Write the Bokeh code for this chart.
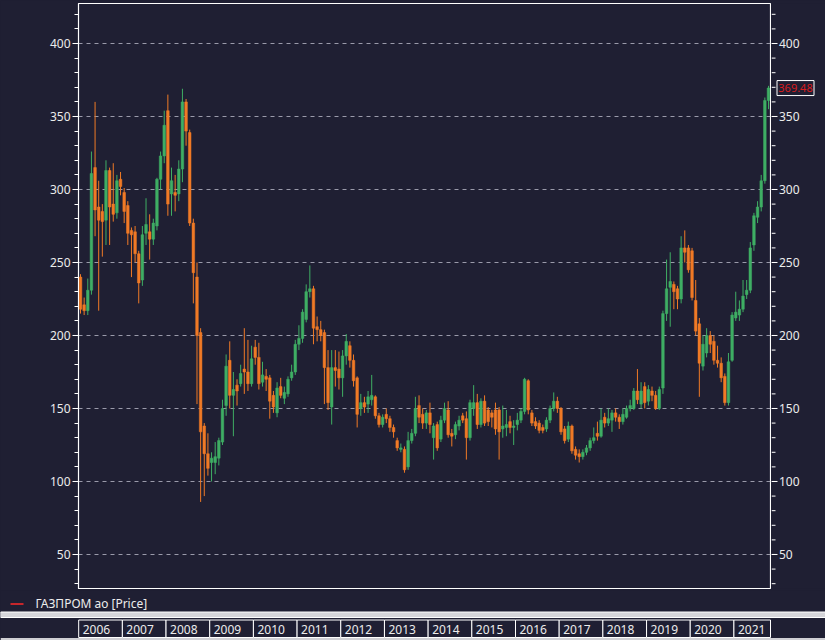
import numpy as np
from bokeh.plotting import figure
from bokeh.models import (Range1d, FixedTicker, ColumnDataSource, GlobalInlineStyleSheet)
from bokeh.layouts import column, row
from bokeh.embed import file_html
from bokeh.resources import INLINE
from bokeh.core.properties import value

# ---- data (monthly candles, Jan 2006 .. Oct 2021) ----
start_year = 2006
open_ = [240, 221, 217, 231, 315, 288, 285, 279, 313, 290, 284, 307,
         298, 289, 272, 271, 256, 238, 270, 271, 266, 275, 307, 323,
         354, 297, 298, 297, 314, 360, 339, 277, 240, 202, 138, 119,
         113, 113, 116, 127, 152, 183, 159, 166, 167, 177, 175, 167,
         192, 185, 168, 172, 171, 159, 147, 165, 157, 160, 171, 175,
         194, 198, 211, 230, 232, 206, 204, 202, 178, 151, 178, 177,
         171, 186, 193, 183, 171, 150, 154, 153, 156, 158, 145, 139,
         146, 143, 137, 128, 122, 122, 110, 128, 133, 152, 146, 140,
         147, 130, 139, 129, 142, 149, 133, 132, 138, 145, 143, 130,
         150, 154, 139, 155, 149, 147, 149, 149, 136, 137, 141, 137,
         139, 142, 148, 169, 147, 141, 140, 137, 136, 142, 150, 155,
         150, 136, 129, 138, 122, 119, 117, 120, 123, 128, 133, 131,
         144, 140, 142, 147, 144, 141, 144, 150, 150, 162, 153, 165,
         155, 162, 159, 150, 164, 215, 233, 235, 232, 225, 260, 260,
         258, 224, 208, 179, 188, 200, 196, 183, 181, 172, 154, 183,
         212, 214, 218, 228, 231, 262, 281, 288, 306, 361]
high = [242, 226, 239, 326, 360, 306, 290, 320, 315, 318, 310, 312,
        301, 292, 274, 275, 258, 275, 294, 283, 280, 308, 326, 354,
        365, 315, 310, 320, 369, 362, 341, 280, 250, 205, 140, 133,
        120, 127, 130, 156, 187, 196, 175, 170, 180, 205, 197, 193,
        197, 195, 182, 177, 173, 162, 168, 171, 165, 172, 180, 197,
        207, 218, 235, 248, 234, 213, 210, 204, 190, 190, 190, 189,
        190, 201, 196, 187, 172, 160, 158, 162, 173, 159, 147, 146,
        150, 145, 139, 130, 126, 124, 134, 136, 158, 159, 150, 149,
        154, 140, 141, 145, 154, 155, 136, 141, 145, 147, 148, 156,
        166, 160, 157, 159, 151, 149, 154, 151, 152, 149, 145, 142,
        147, 150, 171, 170, 149, 144, 142, 139, 144, 152, 161, 158,
        151, 138, 141, 139, 124, 122, 122, 125, 130, 137, 141, 150,
        147, 150, 149, 150, 146, 150, 152, 156, 164, 177, 168, 168,
        166, 165, 162, 165, 217, 252, 257, 237, 234, 268, 272, 262,
        260, 238, 212, 200, 205, 203, 200, 193, 185, 174, 188, 216,
        230, 224, 238, 238, 264, 284, 292, 310, 363, 371]
low = [215, 214, 214, 228, 268, 217, 254, 262, 262, 278, 280, 296,
       277, 262, 240, 250, 222, 234, 262, 252, 262, 272, 300, 318,
       282, 282, 285, 292, 305, 330, 275, 222, 153, 86, 90, 104,
       100, 105, 111, 125, 145, 150, 131, 152, 165, 160, 162, 165,
       180, 163, 165, 162, 143, 147, 144, 157, 153, 158, 169, 173,
       190, 195, 209, 226, 194, 196, 196, 153, 149, 139, 165, 163,
       158, 180, 178, 165, 137, 145, 147, 147, 152, 143, 137, 137,
       140, 134, 130, 121, 120, 106, 108, 126, 131, 140, 136, 136,
       133, 115, 121, 127, 140, 130, 124, 129, 135, 140, 115, 128,
       145, 136, 137, 138, 138, 137, 132, 115, 130, 131, 133, 125,
       135, 140, 146, 146, 138, 136, 133, 133, 134, 140, 148, 147,
       132, 126, 127, 119, 115, 113, 115, 118, 121, 126, 128, 130,
       137, 138, 134, 141, 136, 139, 143, 148, 149, 153, 150, 150,
       152, 155, 149, 149, 160, 210, 206, 218, 218, 222, 250, 243,
       224, 200, 158, 176, 185, 188, 180, 178, 168, 152, 152, 182,
       210, 210, 216, 225, 229, 258, 277, 285, 304, 355]
close = [218, 217, 231, 311, 286, 279, 278, 313, 288, 283, 306, 302,
         285, 270, 269, 256, 236, 269, 276, 266, 277, 307, 323, 344,
         290, 306, 296, 314, 360, 340, 277, 243, 200, 134, 119, 109,
         116, 117, 128, 150, 179, 159, 163, 162, 174, 175, 167, 184,
         185, 167, 173, 170, 155, 151, 164, 159, 161, 170, 175, 194,
         198, 216, 230, 232, 205, 204, 200, 178, 154, 178, 176, 171,
         186, 196, 183, 169, 146, 154, 151, 158, 159, 145, 139, 144,
         143, 137, 134, 123, 123, 108, 128, 133, 150, 144, 140, 147,
         139, 138, 123, 142, 150, 132, 131, 139, 142, 142, 130, 154,
         154, 139, 155, 140, 141, 144, 136, 134, 138, 139, 137, 138,
         142, 148, 170, 149, 140, 138, 135, 135, 142, 150, 155, 150,
         134, 128, 138, 121, 118, 117, 120, 123, 128, 130, 131, 142,
         140, 143, 147, 144, 141, 146, 150, 152, 162, 156, 162, 154,
         163, 159, 150, 163, 215, 232, 237, 230, 225, 260, 257, 245,
         226, 203, 181, 194, 200, 194, 183, 181, 171, 154, 182, 214,
         216, 218, 227, 231, 260, 282, 288, 306, 361, 369.48]
years = [str(y) for y in range(2006, 2022)]
price_ticks = [50, 100, 150, 200, 250, 300, 350, 400]
minor_ticks = list(range(30, 430, 10))
series_name = "ГАЗПРОМ ао [Price]"

# ---- styling constants ----
BG = "#1f1f33"
UP = "#3fae64"
DOWN = "#f07a26"
TXT = "#ececec"
FONT = "Noto Sans"

n = len(close)
idx = np.arange(n)
up = np.array(close) >= np.array(open_)
src = ColumnDataSource(dict(
    x=idx, o=open_, h=high, l=low, c=close,
    top=np.maximum(open_, close), bot=np.minimum(open_, close),
    color=[UP if u else DOWN for u in up]))

FRAME_L, FRAME_R = 78, 770
xl, xr = -0.55, n - 0.45
s = (FRAME_R - FRAME_L) / (xr - xl)
yrange = Range1d(26.7, 427.4)

# ---- main price panel ----
p = figure(width=FRAME_R + 1, height=590, x_range=Range1d(xl, xr), y_range=yrange,
           output_backend="svg", toolbar_location=None, x_axis_location=None,
           min_border_left=FRAME_L, min_border_right=1,
           min_border_top=3, min_border_bottom=2,
           background_fill_color=BG, border_fill_color=BG)
p.frame_align = False
p.outline_line_color = "white"
p.outline_line_width = 1.2
p.xgrid.visible = False
ticker = FixedTicker(ticks=price_ticks, minor_ticks=minor_ticks)
p.ygrid.ticker = ticker
p.ygrid.grid_line_color = "#b0b0c0"
p.ygrid.grid_line_dash = "4 4"
p.ygrid.grid_line_alpha = 0.85

ax = p.yaxis[0]
ax.ticker = ticker
ax.axis_line_color = "white"
ax.major_tick_line_color = "white"
ax.minor_tick_line_color = "white"
ax.major_tick_out = 6
ax.major_tick_in = 0
ax.minor_tick_out = 4
ax.minor_tick_in = 0
ax.major_label_text_color = TXT
ax.major_label_text_font = FONT
ax.major_label_text_font_size = "12px"
ax.major_label_standoff = 2

p.segment(x0="x", y0="h", x1="x", y1="l", color="color", line_width=1, source=src)
p.vbar(x="x", width=0.72, top="top", bottom="bot", fill_color="color",
       line_color="color", line_width=0.5, source=src)

# ---- right price scale with last-price tag (shares the y scale) ----
pr = figure(width=825 - FRAME_R - 1, height=590, x_range=Range1d(-1, 53), y_range=yrange,
            output_backend="svg", toolbar_location=None,
            x_axis_location=None, y_axis_location=None,
            min_border_left=0, min_border_right=0, min_border_top=3, min_border_bottom=2,
            background_fill_color=BG, border_fill_color=BG)
pr.frame_align = False
pr.outline_line_color = None
pr.grid.visible = False
pr.segment(x0=-1, x1=5, y0=price_ticks, y1=price_ticks, line_color="white", line_width=1)
pr.segment(x0=-1, x1=3, y0=minor_ticks, y1=minor_ticks, line_color="white", line_width=1)
pr.text(x=6.5, y=price_ticks, text=[str(t) for t in price_ticks], text_color=TXT,
        text_font=value(FONT), text_font_size="12px", text_baseline="middle")
pr.rect(x=23, y=close[-1], width=37, height=15, width_units="screen", height_units="screen",
        fill_color=BG, line_color="white", line_width=1)
pr.text(x=23, y=[close[-1]], text=[f"{close[-1]:.2f}"], text_color="#d81c1c",
        text_font=value(FONT), text_font_size="11px", text_align="center",
        text_baseline="middle")

# ---- bottom strip: legend + year bar ----
sx0 = xl - FRAME_L / s
sx1 = xr + (825 - FRAME_R) / s
def px(v):
    return xl + (v - FRAME_L) / s

strip = figure(width=825, height=50, x_range=Range1d(sx0, sx1), y_range=Range1d(50, 0),
               output_backend="svg", toolbar_location=None,
               x_axis_location=None, y_axis_location=None, min_border=0,
               min_border_left=0, min_border_right=0, min_border_top=0, min_border_bottom=0,
               background_fill_color=BG, border_fill_color=BG)
strip.frame_align = False
strip.outline_line_color = None
strip.grid.visible = False

strip.segment(x0=px(10), y0=13.5, x1=px(23), y1=13.5, line_color="#ff2a2a", line_width=1.3)
strip.text(x=[px(35)], y=[13], text=[series_name], text_color=TXT,
           text_font=value(FONT), text_font_size="12px", text_baseline="middle")

strip.quad(left=sx0, right=sx1, top=21.5, bottom=27, fill_color="#d6d6da",
           line_color="white", line_width=1)
strip.quad(left=sx0, right=sx1, top=47.5, bottom=51, fill_color="#cfcfd4", line_color=None)

cell_l = [(int(y) - start_year) * 12 - 0.5 for y in years]
cell_r = [min(c + 12, xr) for c in cell_l]
strip.quad(left=cell_l, right=cell_r, top=29.5, bottom=47, fill_color=BG,
           line_color="white", line_width=1)
strip.text(x=cell_l, y=[38.5] * len(years), text=years, x_offset=4, text_color=TXT,
           text_font=value(FONT), text_font_size="12px", text_baseline="middle")

css = GlobalInlineStyleSheet(css="html,body{margin:0;padding:0;background:%s;overflow:hidden;}" % BG)
layout = column(row(p, pr, spacing=0), strip, spacing=0, stylesheets=[css])

open("out.html", "w").write(file_html(layout, INLINE))
